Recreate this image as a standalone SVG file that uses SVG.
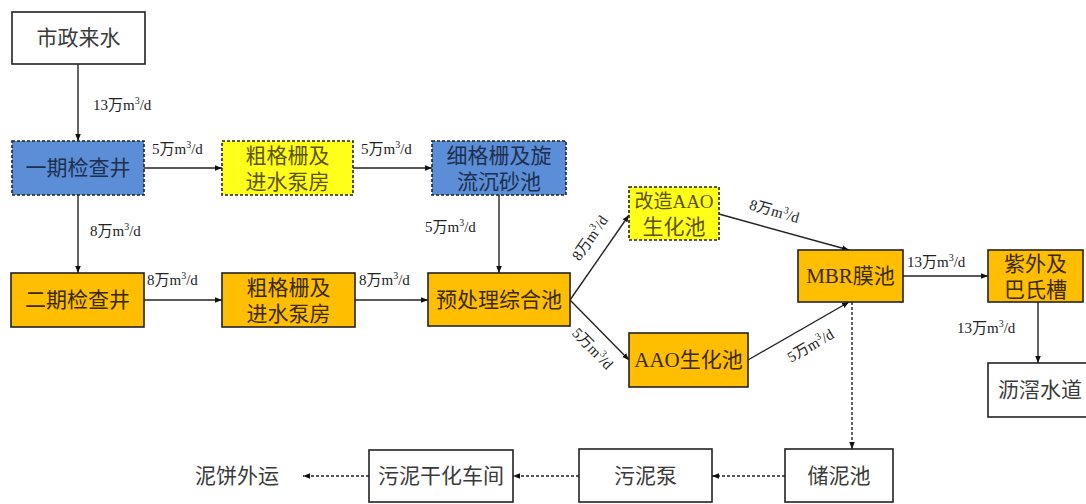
<svg xmlns="http://www.w3.org/2000/svg" width="1086" height="504" viewBox="0 0 1086 504">
<defs>
<style>
.box{stroke:#222;stroke-width:1.6}
.white{fill:#fff}
.blue{fill:#5b8ed6;stroke-dasharray:3 2}
.yellow{fill:#ffff1a;stroke-dasharray:3 2}
.orange{fill:#ffbe00}
.t{font-family:"Liberation Serif","Noto Sans CJK SC",serif;font-size:21px;fill:#3a3a3a;text-anchor:middle}
.tb{fill:#1e2f50}
.ty{fill:#5e5200}
.to{fill:#3a2a00}
.lbl{font-family:"Liberation Serif","Noto Sans CJK SC",serif;font-size:15px;fill:#222}
.sup{font-size:10px}
.ln{stroke:#222;stroke-width:1.4;fill:none}
.dl{stroke:#222;stroke-width:1.4;fill:none;stroke-dasharray:3 2}
</style>
<marker id="ah" viewBox="0 0 10 10" refX="10" refY="5" markerWidth="7" markerHeight="7" orient="auto" markerUnits="userSpaceOnUse">
<path d="M0,1 L10,5 L0,9 Z" fill="#111"/>
</marker>
</defs>
<rect width="1086" height="504" fill="#fff"/>

<g id="connectors">
<line class="ln" x1="78" y1="64" x2="78" y2="141" marker-end="url(#ah)"/>
<line class="ln" x1="78" y1="195" x2="78" y2="273" marker-end="url(#ah)"/>
<line class="ln" x1="144" y1="168" x2="222" y2="168" marker-end="url(#ah)"/>
<line class="ln" x1="353" y1="168" x2="432" y2="168" marker-end="url(#ah)"/>
<line class="ln" x1="499" y1="195" x2="499" y2="273" marker-end="url(#ah)"/>
<line class="ln" x1="144" y1="300" x2="222" y2="300" marker-end="url(#ah)"/>
<line class="ln" x1="355" y1="300" x2="428" y2="300" marker-end="url(#ah)"/>
<line class="ln" x1="570" y1="300" x2="629" y2="215" marker-end="url(#ah)"/>
<line class="ln" x1="570" y1="300" x2="629" y2="360" marker-end="url(#ah)"/>
<line class="ln" x1="719" y1="214" x2="849" y2="250" marker-end="url(#ah)"/>
<line class="ln" x1="748" y1="360" x2="849" y2="302" marker-end="url(#ah)"/>
<line class="ln" x1="903" y1="276" x2="988" y2="276" marker-end="url(#ah)"/>
<line class="ln" x1="1038" y1="302" x2="1038" y2="363" marker-end="url(#ah)"/>
<line class="dl" x1="852" y1="302" x2="852" y2="449" marker-end="url(#ah)"/>
<line class="dl" x1="785" y1="476" x2="712" y2="476" marker-end="url(#ah)"/>
<line class="dl" x1="579" y1="476" x2="513" y2="476" marker-end="url(#ah)"/>
<line class="dl" x1="369" y1="476" x2="303" y2="476" marker-end="url(#ah)"/>

<text class="lbl" x="93" y="110">13万m<tspan class="sup" dy="-6">3</tspan><tspan dy="6">/d</tspan></text>
<text class="lbl" x="90" y="236">8万m<tspan class="sup" dy="-6">3</tspan><tspan dy="6">/d</tspan></text>
<text class="lbl" x="152" y="154">5万m<tspan class="sup" dy="-6">3</tspan><tspan dy="6">/d</tspan></text>
<text class="lbl" x="361" y="154">5万m<tspan class="sup" dy="-6">3</tspan><tspan dy="6">/d</tspan></text>
<text class="lbl" x="425" y="232">5万m<tspan class="sup" dy="-6">3</tspan><tspan dy="6">/d</tspan></text>
<text class="lbl" x="147" y="285">8万m<tspan class="sup" dy="-6">3</tspan><tspan dy="6">/d</tspan></text>
<text class="lbl" x="359" y="285">8万m<tspan class="sup" dy="-6">3</tspan><tspan dy="6">/d</tspan></text>
<text class="lbl" x="0" y="0" text-anchor="middle" transform="translate(594,241) rotate(-55)">8万m<tspan class="sup" dy="-6">3</tspan><tspan dy="6">/d</tspan></text>
<text class="lbl" x="0" y="0" text-anchor="middle" transform="translate(589,352) rotate(46)">5万m<tspan class="sup" dy="-6">3</tspan><tspan dy="6">/d</tspan></text>
<text class="lbl" x="0" y="0" text-anchor="middle" transform="translate(773,216) rotate(16)">8万m<tspan class="sup" dy="-6">3</tspan><tspan dy="6">/d</tspan></text>
<text class="lbl" x="0" y="0" text-anchor="middle" transform="translate(813,350) rotate(-30)">5万m<tspan class="sup" dy="-6">3</tspan><tspan dy="6">/d</tspan></text>
<text class="lbl" x="907" y="267">13万m<tspan class="sup" dy="-6">3</tspan><tspan dy="6">/d</tspan></text>
<text class="lbl" x="957" y="333">13万m<tspan class="sup" dy="-6">3</tspan><tspan dy="6">/d</tspan></text>
</g>

<g id="n_szls"><rect class="box white" x="12" y="12" width="133" height="52"/><text class="t" x="78.5" y="45">市政来水</text></g>
<g id="n_yqjcj"><rect class="box blue" x="12" y="141" width="132" height="54"/><text class="t tb" x="78" y="175">一期检查井</text></g>
<g id="n_cgs1"><rect class="box yellow" x="222" y="141" width="131" height="54"/><text class="t ty" x="287.5" y="163">粗格栅及</text><text class="t ty" x="287.5" y="189">进水泵房</text></g>
<g id="n_xgs"><rect class="box blue" x="432" y="141" width="134" height="54"/><text class="t tb" x="499" y="163">细格栅及旋</text><text class="t tb" x="499" y="189">流沉砂池</text></g>
<g id="n_eqjcj"><rect class="box orange" x="11" y="273" width="133" height="54"/><text class="t to" x="77.5" y="307">二期检查井</text></g>
<g id="n_cgs2"><rect class="box orange" x="222" y="273" width="133" height="54"/><text class="t to" x="288.5" y="295">粗格栅及</text><text class="t to" x="288.5" y="321">进水泵房</text></g>
<g id="n_ycl"><rect class="box orange" x="428" y="273" width="142" height="53"/><text class="t to" x="499" y="307">预处理综合池</text></g>
<g id="n_gzaao"><rect class="box yellow" x="629" y="187" width="90" height="53"/><text class="t ty" x="674" y="208" style="font-size:19px">改造AAO</text><text class="t ty" x="674" y="234">生化池</text></g>
<g id="n_aao"><rect class="box orange" x="629" y="333" width="119" height="54"/><text class="t to" x="688.5" y="367">AAO生化池</text></g>
<g id="n_mbr"><rect class="box orange" x="798" y="250" width="105" height="52"/><text class="t to" x="850.5" y="283">MBR膜池</text></g>
<g id="n_zw"><rect class="box orange" x="988" y="250" width="95" height="52"/><text class="t to" x="1035.5" y="271">紫外及</text><text class="t to" x="1035.5" y="297">巴氏槽</text></g>
<g id="n_lj"><rect class="box white" x="988" y="363" width="100" height="54"/><text class="t" x="1040" y="397">沥滘水道</text></g>
<g id="n_cnc"><rect class="box white" x="785" y="449" width="108" height="53"/><text class="t" x="839" y="483">储泥池</text></g>
<g id="n_wnb"><rect class="box white" x="579" y="449" width="133" height="53"/><text class="t" x="645.5" y="483">污泥泵</text></g>
<g id="n_wngh"><rect class="box white" x="369" y="450" width="144" height="52"/><text class="t" x="441" y="483">污泥干化车间</text></g>
<g id="n_nbwy"><text class="t" x="237" y="483">泥饼外运</text></g>
</svg>
